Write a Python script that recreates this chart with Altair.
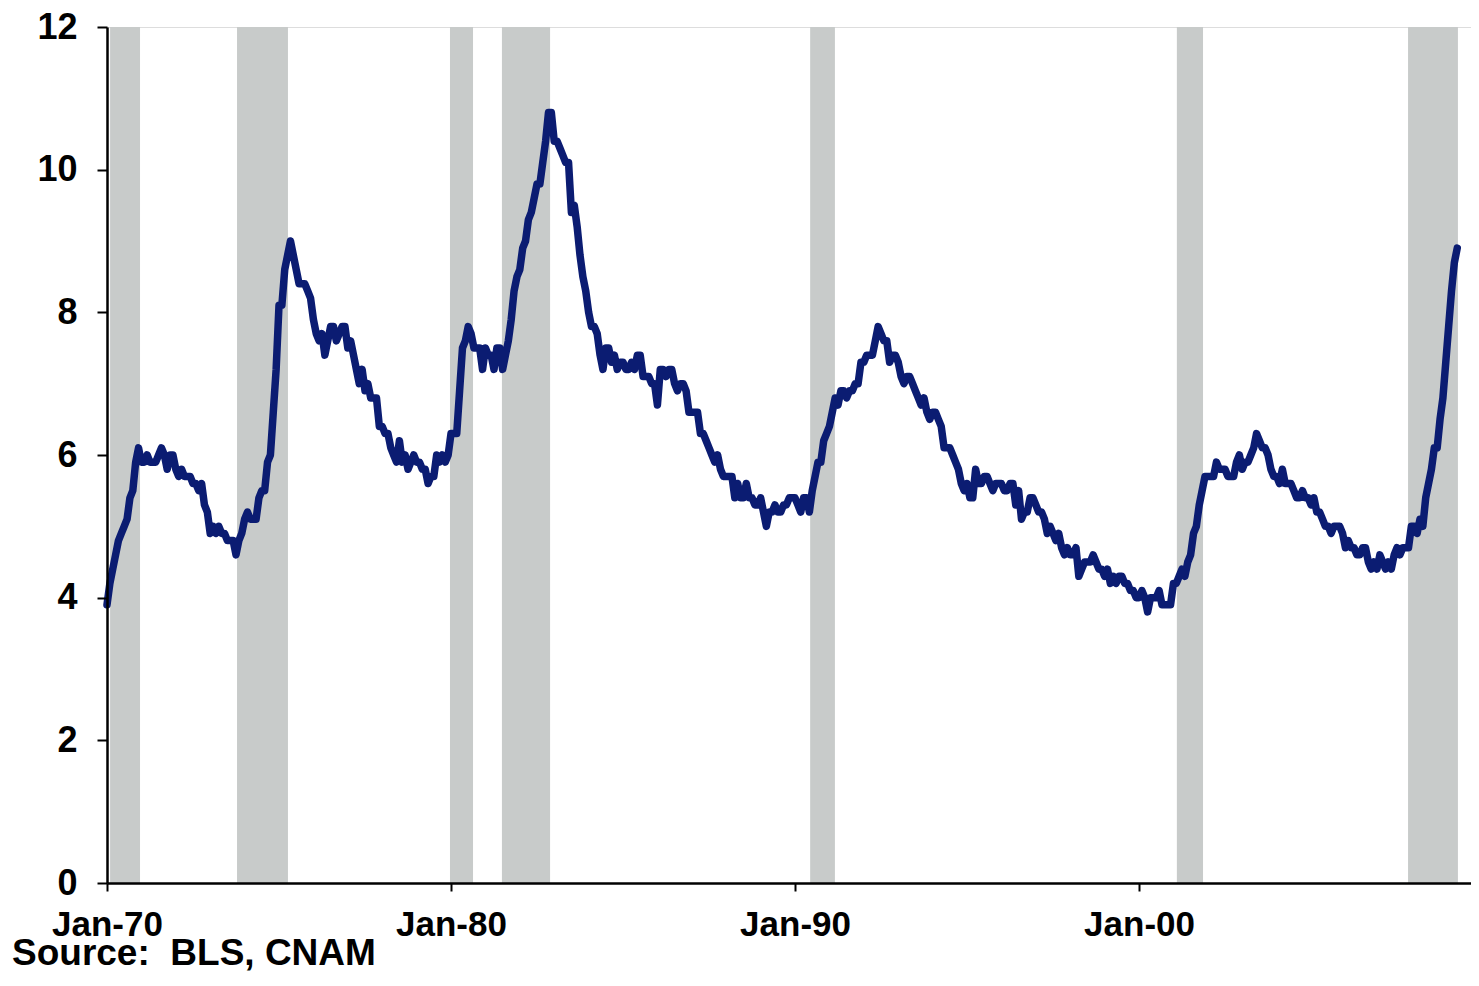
import altair as alt
import pandas as pd

# Monthly unemployment rate (%)
u1970s = [3.9, 4.2, 4.4, 4.6, 4.8, 4.9, 5.0, 5.1, 5.4, 5.5, 5.9, 6.1,
          5.9, 5.9, 6.0, 5.9, 5.9, 5.9, 6.0, 6.1, 6.0, 5.8, 6.0, 6.0,
          5.8, 5.7, 5.8, 5.7, 5.7, 5.7, 5.6, 5.6, 5.5, 5.6, 5.3, 5.2,
          4.9, 5.0, 4.9, 5.0, 4.9, 4.9, 4.8, 4.8, 4.8, 4.6, 4.8, 4.9,
          5.1, 5.2, 5.1, 5.1, 5.1, 5.4, 5.5, 5.5, 5.9, 6.0, 6.6, 7.2,
          8.1, 8.1, 8.6, 8.8, 9.0, 8.8, 8.6, 8.4, 8.4, 8.4, 8.3, 8.2,
          7.9, 7.7, 7.6, 7.7, 7.4, 7.6, 7.8, 7.8, 7.6, 7.7, 7.8, 7.8,
          7.5, 7.6, 7.4, 7.2, 7.0, 7.2, 6.9, 7.0, 6.8, 6.8, 6.8, 6.4,
          6.4, 6.3, 6.3, 6.1, 6.0, 5.9, 6.2, 5.9, 6.0, 5.8, 5.9, 6.0,
          5.9, 5.9, 5.8, 5.8, 5.6, 5.7, 5.7, 6.0, 5.9, 6.0, 5.9, 6.0]
u1980s = [6.3, 6.3, 6.3, 6.9, 7.5, 7.6, 7.8, 7.7, 7.5, 7.5, 7.5, 7.2,
          7.5, 7.4, 7.4, 7.2, 7.5, 7.5, 7.2, 7.4, 7.6, 7.9, 8.3, 8.5,
          8.6, 8.9, 9.0, 9.3, 9.4, 9.6, 9.8, 9.8, 10.1, 10.4, 10.8, 10.8,
          10.4, 10.4, 10.3, 10.2, 10.1, 10.1, 9.4, 9.5, 9.2, 8.8, 8.5, 8.3,
          8.0, 7.8, 7.8, 7.7, 7.4, 7.2, 7.5, 7.5, 7.3, 7.4, 7.2, 7.3,
          7.3, 7.2, 7.2, 7.3, 7.2, 7.4, 7.4, 7.1, 7.1, 7.1, 7.0, 7.0,
          6.7, 7.2, 7.2, 7.1, 7.2, 7.2, 7.0, 6.9, 7.0, 7.0, 6.9, 6.6,
          6.6, 6.6, 6.6, 6.3, 6.3, 6.2, 6.1, 6.0, 5.9, 6.0, 5.8, 5.7,
          5.7, 5.7, 5.7, 5.4, 5.6, 5.4, 5.4, 5.6, 5.4, 5.4, 5.3, 5.3,
          5.4, 5.2, 5.0, 5.2, 5.2, 5.3, 5.2, 5.2, 5.3, 5.3, 5.4, 5.4]
u1990s = [5.4, 5.3, 5.2, 5.4, 5.4, 5.2, 5.5, 5.7, 5.9, 5.9, 6.2, 6.3,
          6.4, 6.6, 6.8, 6.7, 6.9, 6.9, 6.8, 6.9, 6.9, 7.0, 7.0, 7.3,
          7.3, 7.4, 7.4, 7.4, 7.6, 7.8, 7.7, 7.6, 7.6, 7.3, 7.4, 7.4,
          7.3, 7.1, 7.0, 7.1, 7.1, 7.0, 6.9, 6.8, 6.7, 6.8, 6.6, 6.5,
          6.6, 6.6, 6.5, 6.4, 6.1, 6.1, 6.1, 6.0, 5.9, 5.8, 5.6, 5.5,
          5.6, 5.4, 5.4, 5.8, 5.6, 5.6, 5.7, 5.7, 5.6, 5.5, 5.6, 5.6,
          5.6, 5.5, 5.5, 5.6, 5.6, 5.3, 5.5, 5.1, 5.2, 5.2, 5.4, 5.4,
          5.3, 5.2, 5.2, 5.1, 4.9, 5.0, 4.9, 4.8, 4.9, 4.7, 4.6, 4.7,
          4.6, 4.6, 4.7, 4.3, 4.4, 4.5, 4.5, 4.5, 4.6, 4.5, 4.4, 4.4,
          4.3, 4.4, 4.2, 4.3, 4.2, 4.3, 4.3, 4.2, 4.2, 4.1, 4.1, 4.0]
u2000s = [4.0, 4.1, 4.0, 3.8, 4.0, 4.0, 4.0, 4.1, 3.9, 3.9, 3.9, 3.9,
          4.2, 4.2, 4.3, 4.4, 4.3, 4.5, 4.6, 4.9, 5.0, 5.3, 5.5, 5.7,
          5.7, 5.7, 5.7, 5.9, 5.8, 5.8, 5.8, 5.7, 5.7, 5.7, 5.9, 6.0,
          5.8, 5.9, 5.9, 6.0, 6.1, 6.3, 6.2, 6.1, 6.1, 6.0, 5.8, 5.7,
          5.7, 5.6, 5.8, 5.6, 5.6, 5.6, 5.5, 5.4, 5.4, 5.5, 5.4, 5.4,
          5.3, 5.4, 5.2, 5.2, 5.1, 5.0, 5.0, 4.9, 5.0, 5.0, 5.0, 4.9,
          4.7, 4.8, 4.7, 4.7, 4.6, 4.6, 4.7, 4.7, 4.5, 4.4, 4.5, 4.4,
          4.6, 4.5, 4.4, 4.5, 4.4, 4.6, 4.7, 4.6, 4.7, 4.7, 4.7, 5.0,
          5.0, 4.9, 5.1, 5.0, 5.4, 5.6, 5.8, 6.1, 6.1, 6.5, 6.8, 7.3,
          7.8, 8.3, 8.7, 8.9]

# Recession shading (decimal years)
rec_start = [1970.09, 1973.78, 1979.97, 1981.48, 1990.44, 2001.10, 2007.82]
rec_end = [1970.96, 1975.26, 1980.64, 1982.88, 1991.16, 2001.86, 2009.27]

y_ticks = [0, 2, 4, 6, 8, 10, 12]
x_ticks = [1970, 1980, 1990, 2000]
x_tick_labels = ["Jan-70", "Jan-80", "Jan-90", "Jan-00"]
source_text = "Source:\u00a0 BLS, CNAM"

FONT = "Liberation Sans"
X_DOMAIN = [1970, 2009.65]
Y_DOMAIN = [0, 12]
W, H = 1364, 856

values = u1970s + u1980s + u1990s + u2000s
line_df = pd.DataFrame({"t": [1970 + i / 12 for i in range(len(values))], "u": values})
rec_df = pd.DataFrame({"start": rec_start, "end": rec_end})
src_df = pd.DataFrame({"label": [source_text]})

label_expr = " : ".join(
    f"datum.value == {v} ? '{lab}'" for v, lab in zip(x_ticks, x_tick_labels)
) + " : ''"

x_scale = alt.Scale(domain=X_DOMAIN, nice=False, zero=False)
y_scale = alt.Scale(domain=Y_DOMAIN, nice=False)

x_axis = alt.Axis(
    values=x_ticks, labelExpr=label_expr, title=None, grid=False,
    labelFont=FONT, labelFontSize=35, labelFontWeight="bold", labelColor="black",
    tickSize=8, tickWidth=2, tickColor="black", labelPadding=16,
    domainColor="black", domainWidth=2.5, labelFlush=False, labelOverlap=False,
    zindex=1,
)
y_axis = alt.Axis(
    values=y_ticks, title=None, grid=False,
    labelFont=FONT, labelFontSize=36, labelFontWeight="bold", labelColor="black",
    tickSize=10, tickWidth=2, tickColor="black", labelPadding=20,
    domainColor="black", domainWidth=2.5, zindex=1,
)

bars = alt.Chart(rec_df).mark_rect(color="#c8cbca").encode(
    x=alt.X("start:Q", scale=x_scale, axis=x_axis),
    x2="end:Q",
    y=alt.value(0),
    y2=alt.value(H),
)

line = alt.Chart(line_df).mark_line(
    color="#0b1c72", strokeWidth=7.5, strokeJoin="round", strokeCap="round"
).encode(
    x=alt.X("t:Q", scale=x_scale, axis=x_axis),
    y=alt.Y("u:Q", scale=y_scale, axis=y_axis),
)

source = alt.Chart(src_df).mark_text(
    align="left", baseline="alphabetic", font=FONT, fontSize=37,
    fontWeight="bold", color="black"
).encode(
    x=alt.value(-95),
    y=alt.value(H + 82),
    text="label:N",
)

chart = alt.layer(bars, line, source).properties(
    width=W, height=H,
    padding={"left": 99, "top": 19, "right": 0, "bottom": 90},
    autosize="none",
).configure_view(stroke="black", strokeWidth=2.5).configure(background="white")

chart.save("out.html", embed_options={"renderer": "svg", "actions": False})
